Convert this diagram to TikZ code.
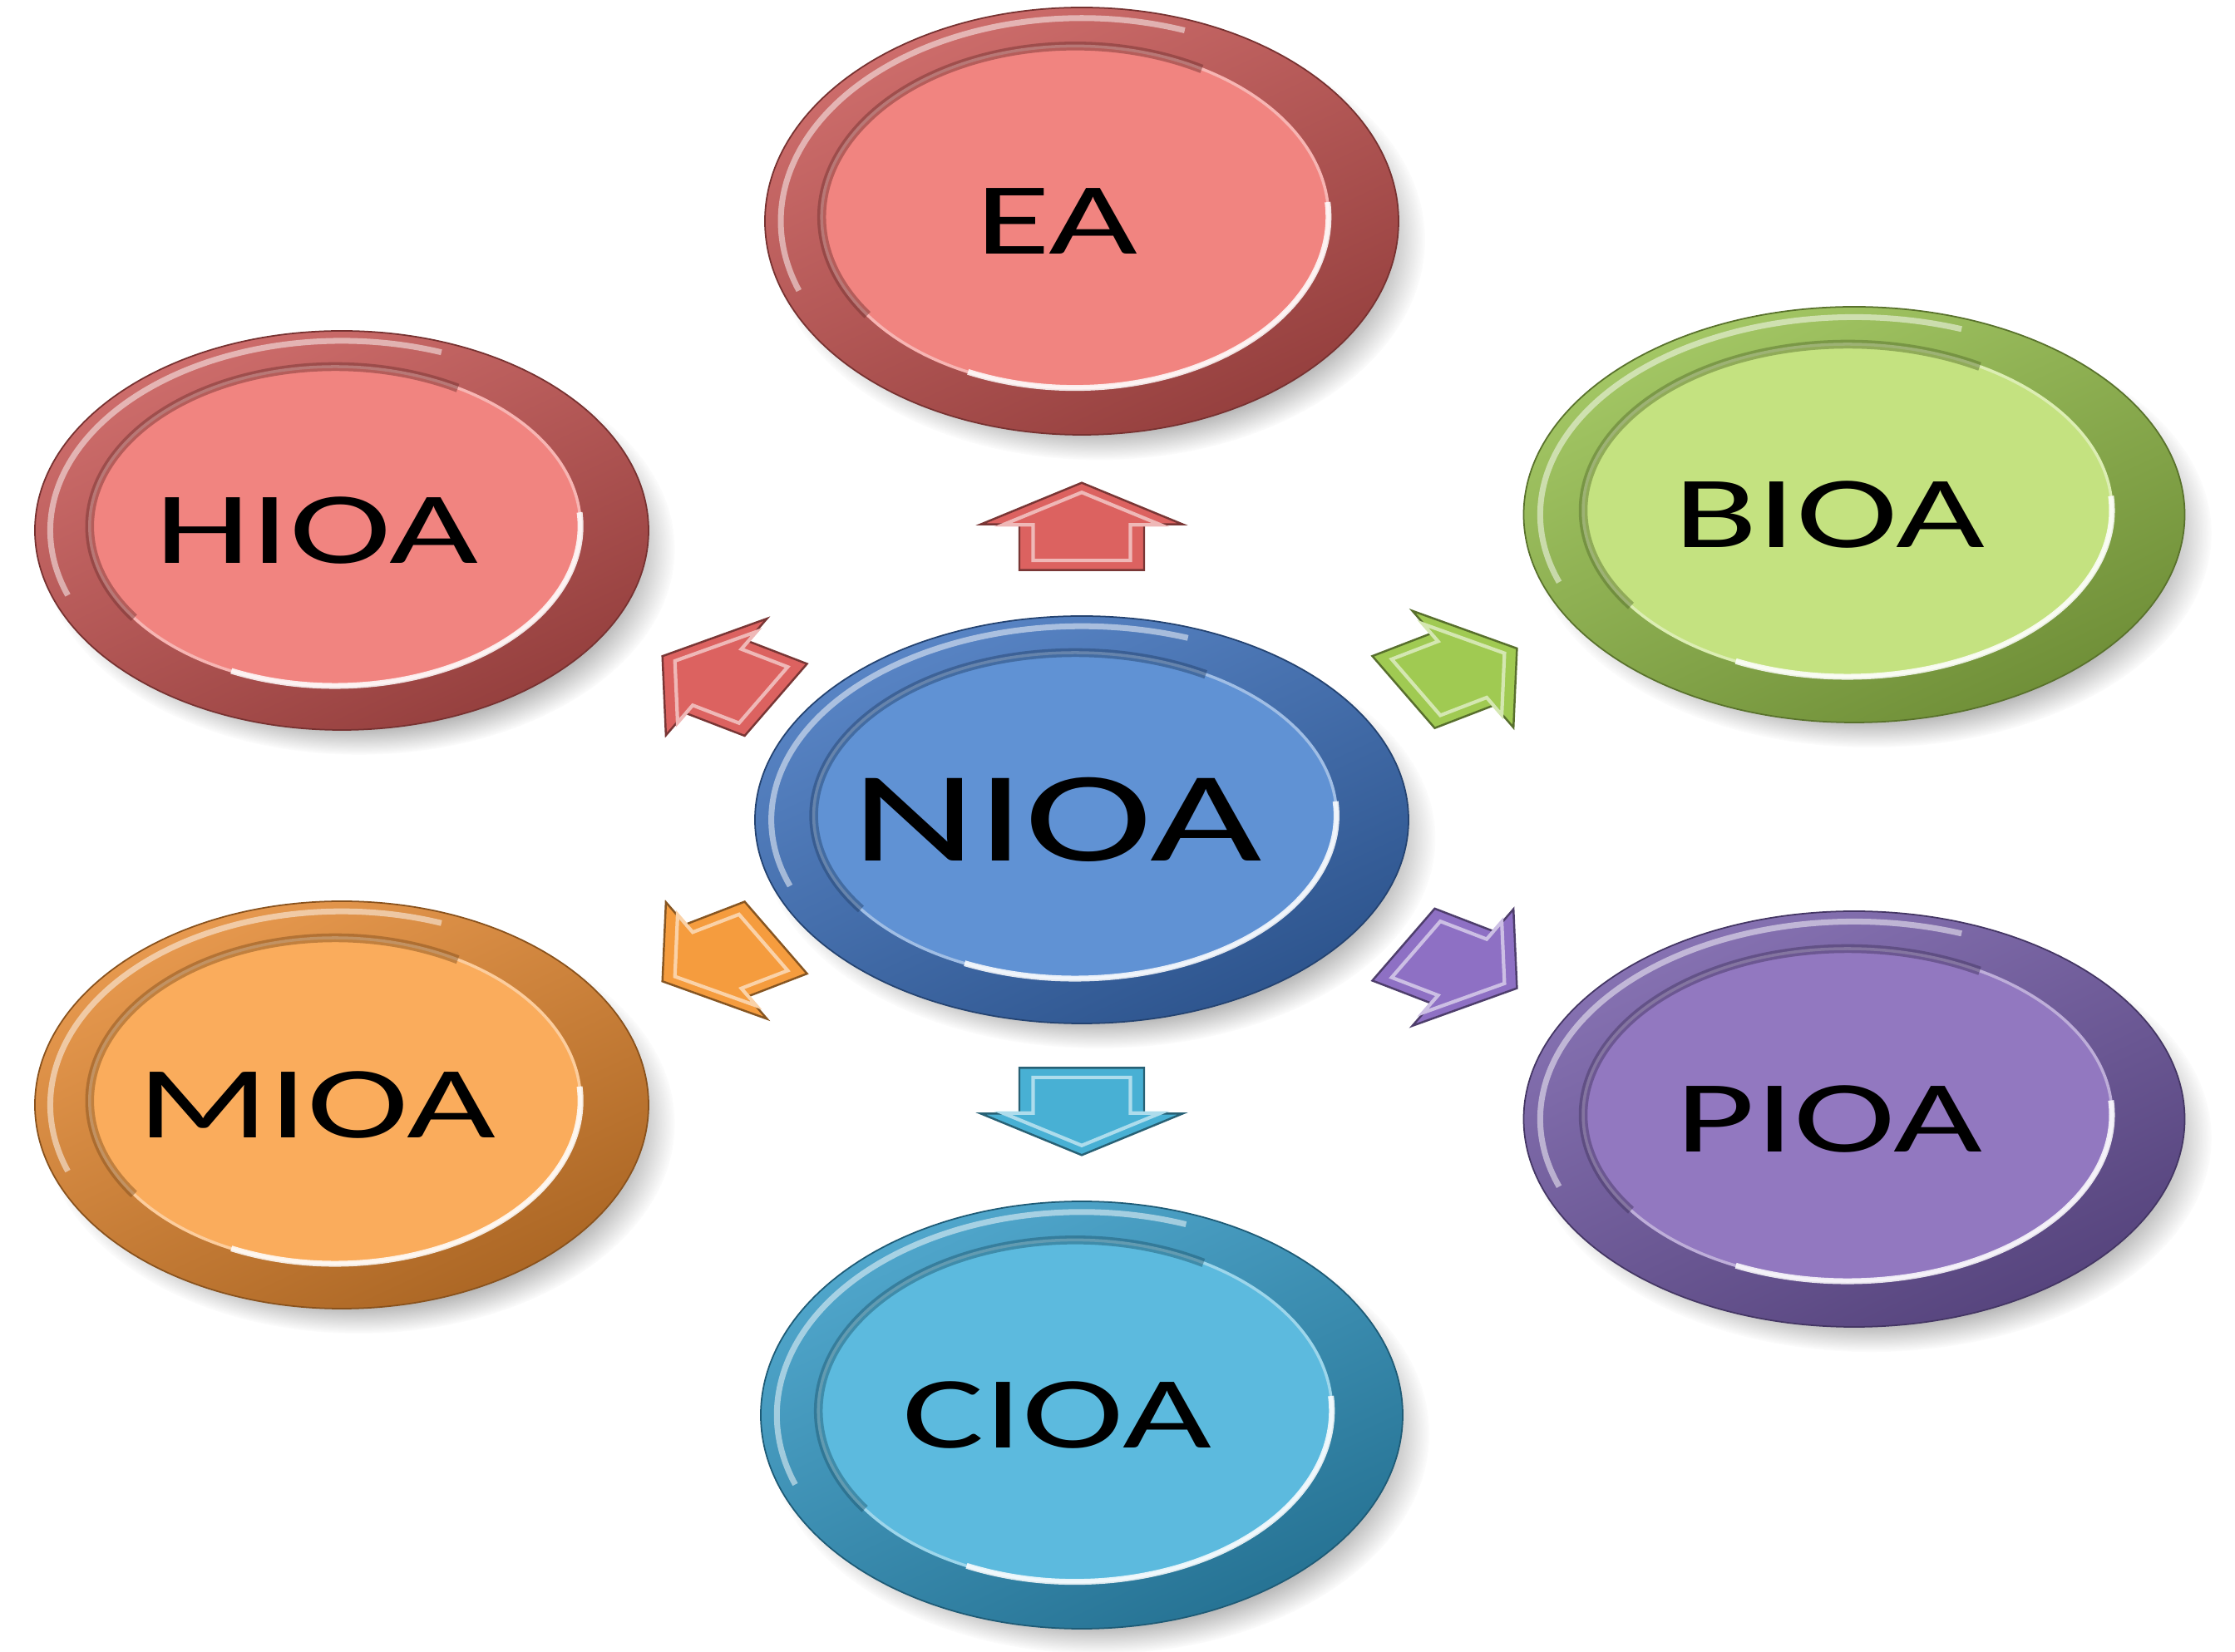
\documentclass[tikz,border=0pt]{standalone}
\usepackage{fontspec}
\newfontfamily\discfont[FakeStretch=1.5]{Carlito}
\usetikzlibrary{positioning, calc, shapes.geometric, shadows, fadings}

\definecolor{redface}{RGB}{241,132,128}
\definecolor{redrim}{RGB}{198,84,82}
\definecolor{greenface}{RGB}{196,226,128}
\definecolor{greenrim}{RGB}{148,190,74}
\definecolor{blueface}{RGB}{96,146,212}
\definecolor{bluerim}{RGB}{60,112,188}
\definecolor{orangeface}{RGB}{250,172,92}
\definecolor{orangerim}{RGB}{228,136,48}
\definecolor{purpleface}{RGB}{146,120,192}
\definecolor{purplerim}{RGB}{114,90,166}
\definecolor{cyanface}{RGB}{92,186,222}
\definecolor{cyanrim}{RGB}{50,152,196}
\definecolor{redarrow}{RGB}{220,98,96}
\definecolor{greenarrow}{RGB}{160,202,82}
\definecolor{orangearrow}{RGB}{245,156,62}
\definecolor{purplearrow}{RGB}{142,112,196}
\definecolor{cyanarrow}{RGB}{72,176,212}

\tikzset{
  disc/.style={
    ellipse,
    inner sep=0pt,
    text=black,
    font=\discfont\fontsize{35}{40}\selectfont,
    execute at begin node={\hspace*{-0.6cm}},
    draw=#1rim!60!black,
    line width=0.5pt,
    top color=#1rim!85!white,
    bottom color=#1rim!75!black,
    shading angle=25,
    drop shadow={shadow xshift=0.2cm, shadow yshift=-0.22cm, shadow scale=1.03,
      fill=black!70, opacity=0.45, path fading=circle with fuzzy edge 15 percent},
    path picture={
      \draw[white, opacity=0.5, line width=2pt]
        let \p1 = ($(path picture bounding box.north east)-(path picture bounding box.center)$) in
        ($(path picture bounding box.center)+({0.95*\x1*cos(70)},{0.95*\y1*sin(70)})$)
        arc[start angle=70, end angle=200, x radius=0.95*\x1, y radius=0.95*\y1];
      \filldraw[fill=#1face, draw=#1face!60!white, line width=1pt]
        let \p1 = ($(path picture bounding box.north east)-(path picture bounding box.center)$) in
        ($(path picture bounding box.center)+(-0.08,0.05)$)
        ellipse [x radius=0.8*\x1, y radius=0.8*\y1];
      \draw[#1rim!55!black, opacity=0.45, line width=3pt]
        let \p1 = ($(path picture bounding box.north east)-(path picture bounding box.center)$) in
        ($(path picture bounding box.center)+(-0.08,0.05)+({0.8*\x1*cos(60)},{0.8*\y1*sin(60)})$)
        arc[start angle=60, end angle=215, x radius=0.8*\x1, y radius=0.8*\y1];
      \draw[white, opacity=0.85, line width=2pt]
        let \p1 = ($(path picture bounding box.north east)-(path picture bounding box.center)$) in
        ($(path picture bounding box.center)+(-0.08,0.05)+({0.8*\x1*cos(-115)},{0.8*\y1*sin(-115)})$)
        arc[start angle=-115, end angle=5, x radius=0.8*\x1, y radius=0.8*\y1];
    }
  },
  blockarrow/.style={line width=0.7pt, line join=miter}
}

\begin{document}
\begin{tikzpicture}[on grid]
    \useasboundingbox (-13.01,-10.01) rectangle (13.87,9.86);

    % centro
    \node (nioa) [disc=blue, minimum width=7.86cm, minimum height=4.9cm,
                  font=\discfont\fontsize{44}{48}\selectfont] {NIOA};

    % satelites
    \node (ea)   [disc=red, minimum width=7.62cm, minimum height=5.14cm, above=7.2cm of nioa] {EA};
    \node (hioa) [disc=red, minimum width=7.38cm, minimum height=4.8cm, above left=3.48cm and 8.9cm of nioa] {HIOA};
    \node (bioa) [disc=green, minimum width=7.95cm, minimum height=5.0cm, above right=3.67cm and 9.29cm of nioa] {BIOA};
    \node (mioa) [disc=orange, minimum width=7.38cm, minimum height=4.9cm, below left=3.43cm and 8.9cm of nioa] {MIOA};
    \node (pioa) [disc=purple, minimum width=7.95cm, minimum height=5.0cm, below right=3.6cm and 9.29cm of nioa] {PIOA};
    \node (cioa) [disc=cyan, minimum width=7.72cm, minimum height=5.14cm, below=7.16cm of nioa] {CIOA};

    % flechas desde NIOA hacia cada satelite
    \foreach \sat/\ang/\col in {ea/90/redarrow, hioa/150/redarrow, bioa/30/greenarrow,
                                mioa/210/orangearrow, pioa/330/purplearrow, cioa/270/cyanarrow}
    {
      \begin{scope}[shift={($(nioa)!0.49!(\sat)$)}, xscale=1.5, rotate=\ang]
        \filldraw[blockarrow, fill=\col, draw=\col!55!black]
          (-0.525,-0.5) -- (0.025,-0.5) -- (0.025,-0.81) -- (0.525,0)
          -- (0.025,0.81) -- (0.025,0.5) -- (-0.525,0.5) -- cycle;
        \draw[\col!45!white, line width=1.2pt, scale=0.78]
          (-0.525,-0.5) -- (0.025,-0.5) -- (0.025,-0.81) -- (0.525,0)
          -- (0.025,0.81) -- (0.025,0.5) -- (-0.525,0.5) -- cycle;
      \end{scope}
    }
\end{tikzpicture}
\end{document}
